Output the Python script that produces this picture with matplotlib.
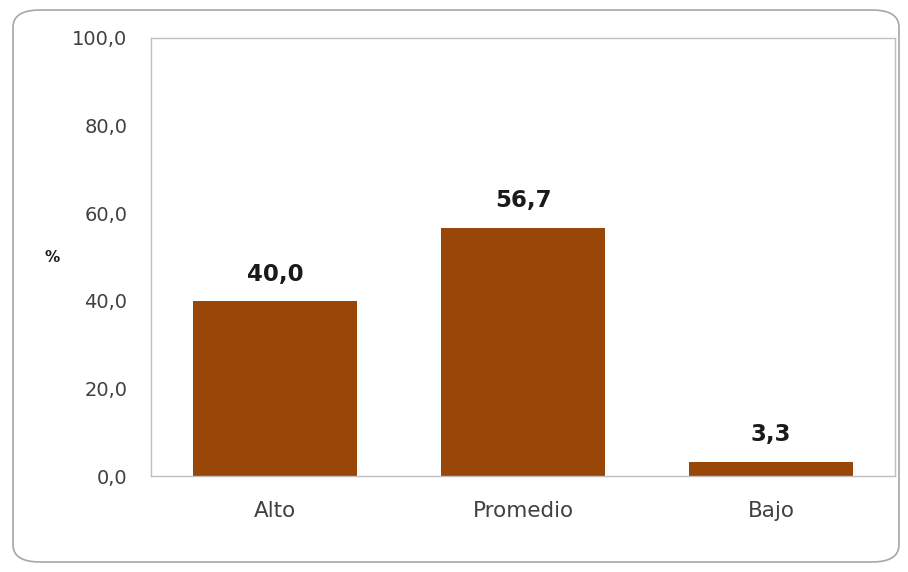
import matplotlib.pyplot as plt
from matplotlib.patches import FancyBboxPatch

categories = ['Alto', 'Promedio', 'Bajo']
values = [40.0, 56.7, 3.3]
yticks = [0, 20, 40, 60, 80, 100]

plt.rcParams['font.family'] = ['DejaVu Sans']

fig = plt.figure(figsize=(9.08, 5.72), dpi=100)
ax = fig.add_axes([0.1663, 0.1678, 0.8194, 0.7658])

bars = ax.bar(range(len(categories)), values, width=0.66, color='#994708')
for b, v in zip(bars, values):
    ax.annotate(f'{v:.1f}'.replace('.', ','), (b.get_x() + b.get_width() / 2, v),
                xytext=(0, 11), textcoords='offset points',
                ha='center', va='bottom', fontsize=16.5, fontweight='bold', color='#1a1a1a')

ax.set_xlim(-0.5, 2.5)
ax.set_ylim(0, 100)
ax.set_yticks(yticks)
ax.set_yticklabels([f'{t:.1f}'.replace('.', ',') for t in yticks])
ax.set_xticks(range(len(categories)))
ax.set_xticklabels(categories)
ax.tick_params(axis='both', length=0, colors='#404040')
ax.tick_params(axis='x', pad=18, labelsize=15.5)
ax.tick_params(axis='y', pad=17, labelsize=14)
for s in ax.spines.values():
    s.set_color('#bfbfbf')
    s.set_linewidth(1.0)

fig.text(52 / 908, 1 - 258 / 572, '%', fontsize=11, fontweight='bold',
         ha='center', va='center', color='#1a1a1a')

frame = FancyBboxPatch((13 / 908, 10 / 572), 886 / 908, 552 / 572,
                       boxstyle='round,pad=0,rounding_size=0.03',
                       transform=fig.transFigure, fill=False,
                       edgecolor='#a6a6a6', linewidth=1.2)
fig.patches.append(frame)

fig.savefig('out.png', dpi=100)
